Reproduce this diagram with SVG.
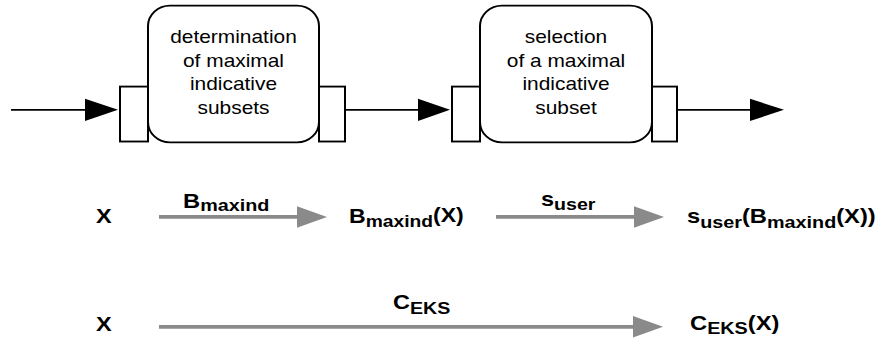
<svg xmlns="http://www.w3.org/2000/svg" width="886" height="364" viewBox="0 0 886 364">
<style>
.box{fill:#fff;stroke:#000;stroke-width:2}
.port{fill:#fff;stroke:#000;stroke-width:2}
.lbl{font-family:"Liberation Sans",Arial,sans-serif;font-size:19px;fill:#000;text-anchor:middle}
.m{font-family:"Liberation Sans",Arial,sans-serif;font-weight:bold;font-size:21px;fill:#000}
.s{font-size:17.5px}
.bl{stroke:#000;stroke-width:2;fill:none}
.ah{fill:#000}
.gl{stroke:#8a8a8a;stroke-width:4;fill:none}
.gh{fill:#8a8a8a}
</style>
<rect width="886" height="364" fill="#fff"/>
<g transform="scale(1,0.931)">
<g id="n-determination">
<rect class="box" x="148" y="6" width="171" height="147" rx="22"/>
<rect class="port" x="120" y="93" width="28" height="59"/>
<rect class="port" x="319" y="93" width="26" height="59"/>
<g transform="translate(233.5,0) scale(1.1,1)">
<text class="lbl" x="0" y="46">determination</text>
<text class="lbl" x="0" y="71.5">of maximal</text>
<text class="lbl" x="0" y="97">indicative</text>
<text class="lbl" x="0" y="122.5">subsets</text>
</g>
</g>
<g id="n-selection">
<rect class="box" x="480" y="6" width="172" height="147" rx="22"/>
<rect class="port" x="452" y="93" width="28" height="59"/>
<rect class="port" x="652" y="93" width="25" height="59"/>
<g transform="translate(566,0) scale(1.1,1)">
<text class="lbl" x="0" y="46">selection</text>
<text class="lbl" x="0" y="71.5">of a maximal</text>
<text class="lbl" x="0" y="97">indicative</text>
<text class="lbl" x="0" y="122.5">subset</text>
</g>
</g>
<g id="n-x1"><text class="m" transform="translate(96,240) scale(1.12,1)">X</text></g>
<g id="n-bx"><text class="m" transform="translate(349,240) scale(1.1,1)">B<tspan class="s" dy="4">maxind</tspan><tspan dy="-6">(X)</tspan></text></g>
<g id="n-sbx"><text class="m" transform="translate(687,240) scale(1.13,1)">s<tspan class="s" dy="5">user</tspan><tspan dy="-5">(B</tspan><tspan class="s" dy="5">maxind</tspan><tspan dy="-5">(X))</tspan></text></g>
<g id="n-x2"><text class="m" transform="translate(96,356) scale(1.12,1)">X</text></g>
<g id="n-cx"><text class="m" transform="translate(690,354) scale(1.13,1)">C<tspan class="s" dy="5">EKS</tspan><tspan dy="-5">(X)</tspan></text></g>
<g id="connectors">
<line class="bl" x1="11" y1="118" x2="86" y2="118"/>
<polygon class="ah" points="85,106 118,118 85,130"/>
<line class="bl" x1="345" y1="118" x2="419" y2="118"/>
<polygon class="ah" points="418,106 450,118 418,130"/>
<line class="bl" x1="676" y1="118" x2="751" y2="118"/>
<polygon class="ah" points="750,106 784,118 750,130"/>
<line class="gl" x1="159" y1="233" x2="298" y2="233"/>
<polygon class="gh" points="297,221.5 327,233 297,244.5"/>
<text class="m" transform="translate(183,223) scale(1.13,1)">B<tspan class="s" dy="4">maxind</tspan></text>
<line class="gl" x1="496" y1="233" x2="635" y2="233"/>
<polygon class="gh" points="634,221.5 664,233 634,244.5"/>
<text class="m" transform="translate(541,221) scale(1.12,1)">s<tspan class="s" dy="5">user</tspan></text>
<line class="gl" x1="159" y1="351" x2="634" y2="351"/>
<polygon class="gh" points="633,339.5 663,351 633,362.5"/>
<text class="m" transform="translate(393,332) scale(1.12,1)">C<tspan class="s" dy="5">EKS</tspan></text>
</g>
</g>
</svg>
